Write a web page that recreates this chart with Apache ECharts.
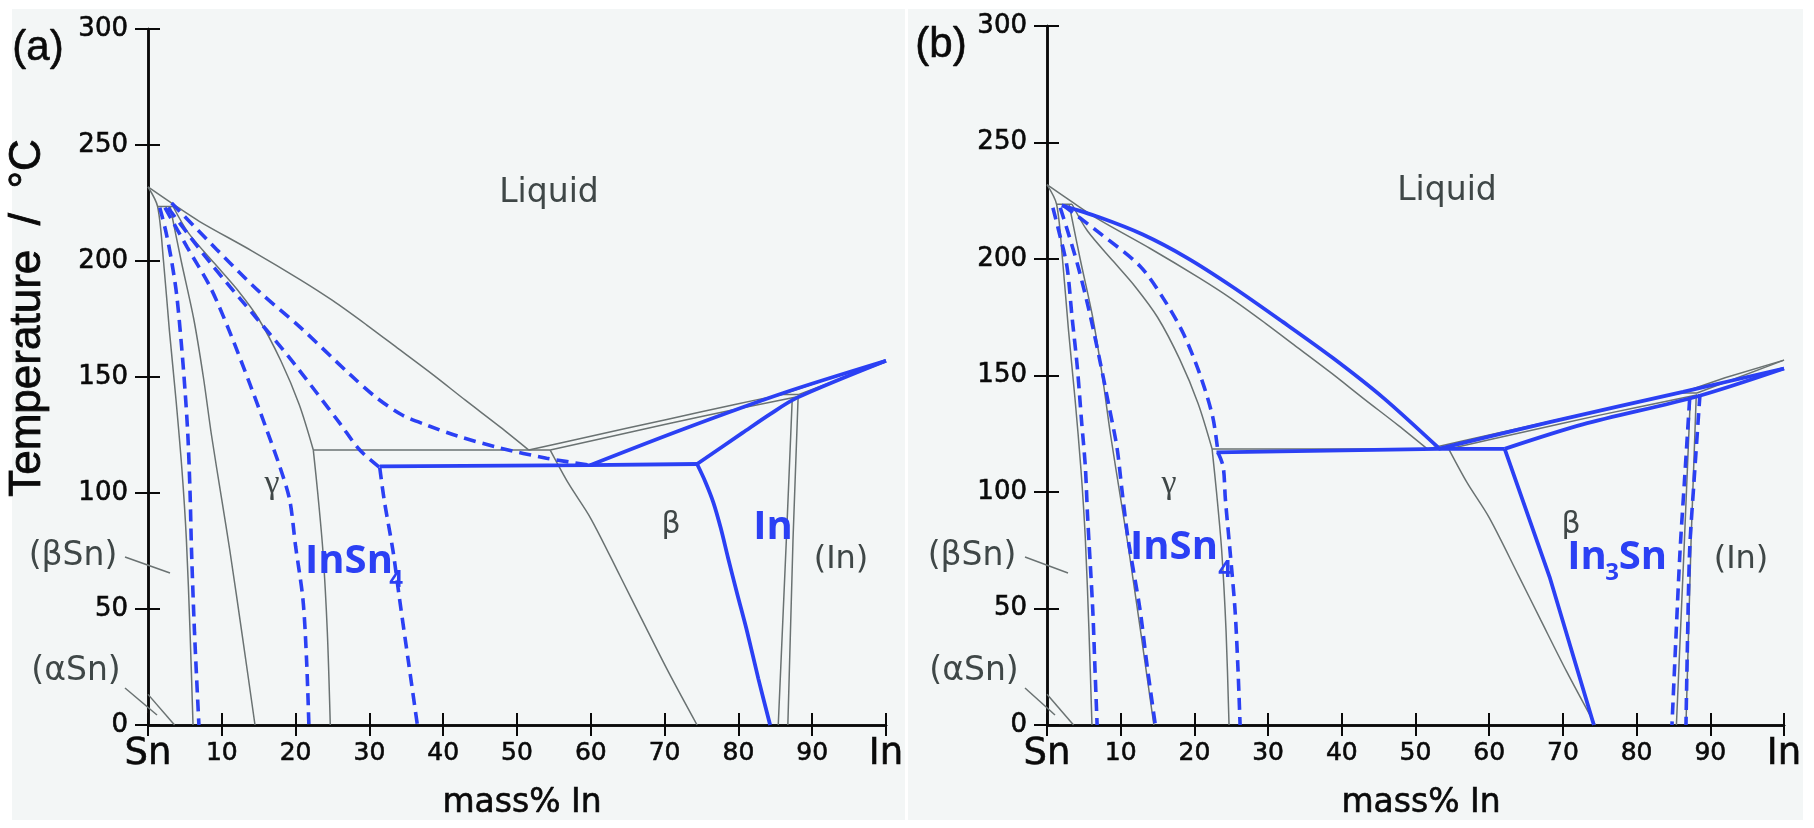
<!DOCTYPE html>
<html><head><meta charset="utf-8">
<script src="https://cdn.jsdelivr.net/npm/echarts@6/dist/echarts.min.js"></script>
<style>html,body{margin:0;padding:0;background:#fff}#c{width:1814px;height:828px}</style>
</head><body><div id="c"></div>
<script>
// ---------- tick labels ----------
const xTickLabels = ['Sn','10','20','30','40','50','60','70','80','90','In'];
const yTickValues = [0,50,100,150,200,250,300];

// ---------- grey lines: original Sn–In phase diagram (mass% In, °C) ----------
const greyLiquidusSn   = [[0,231.9],[3.4,224.5],[7,217],[14,204.5],[20.6,192],[25,183],[29.6,172.5],[34,162],[38.6,151],[43,140],[47.7,128.5],[51.6,118.5]];
const greyBetaSnBound  = [[0,231.9],[1.3,223.5],[2.1,200],[2.9,170],[3.8,140],[4.6,110],[5.2,80],[5.7,40],[6.1,0]];
const greyPeritecticSn = [[1.3,223.5],[3.4,223.5]];
const greyGammaLeft    = [[3.0,223.5],[4.5,200],[6.2,175],[7.5,150],[8.6,125],[10,97],[11.1,75],[12.8,38],[14.5,0]];
const greyGammaRight   = [[3.4,223.5],[5.5,212],[9,199],[12,188],[15,175],[18,157],[20.5,138],[22.4,118.5]];
const greyGammaLower   = [[22.4,118.5],[23.0,100],[23.7,75],[24.3,40],[24.7,0]];
const greyEutectic     = [[22.4,118.5],[54.5,118.5]];
const greyBetaLeft     = [[54.5,118.5],[57,104],[60,89],[64,64],[67,45],[70.5,23],[74.4,0]];
const greyLiquidusIn   = [[51.6,118.5],[60,124.5],[70,131.5],[80,138.5],[86,142.5]];
const greyLiquidusTop  = [[86,142.5],[92,149],[100,156.6]];
const greyBetaSolidus  = [[54.5,118.5],[65,126],[75,133],[88,141.5]];
const greyPeritecticIn = [[86,142.5],[88.2,142.5]];
const greyInSolidus    = [[88.2,142.5],[100,156.6]];
const greyBetaRight    = [[87.3,141],[86.5,80],[85.4,0]];
const greyInLeft       = [[88.1,142],[87.4,80],[86.7,0]];
const greyAlphaSn      = [[0,13.2],[3.6,0]];

// ---------- blue lines, panel (a) ----------
const aDash1 = [[1.6,223],[2.4,213],[3.2,200],[3.9,185],[4.5,165],[5.0,145],[5.4,125],[5.7,100],[5.9,75],[6.3,40],[6.9,0]];
const aDash2 = [[2.3,223],[5.3,206],[8.4,189],[11,170],[13.8,147],[16,128],[17.9,111],[19.2,97],[20,77],[21,54],[21.5,27],[21.8,0]];
const aDash3Upper = [[2.7,223],[8.5,199],[14.8,175],[19,159],[22.9,143],[26,130],[28.7,118.5],[31.4,111]];
const aDash3Lower = [[31.4,111],[32,97],[33.2,75],[34.1,54],[35.3,27],[36.5,0]];
const aDash4 = [[3.2,225],[9.3,205],[15,187],[20.6,171.5],[27.4,151],[31,141],[34.5,133.5],[38,129],[42,124.5],[47.7,119.4],[54,115],[59.9,112]];
const aSolidH    = [[31.4,111.5],[59.9,112],[74.4,112.5]];
const aSolidBeta = [[74.4,112.5],[75.5,105],[76.6,96],[77.6,85],[78.6,72],[79.8,57],[81.2,40],[82.7,20],[84.3,0]];
const aSolidL1   = [[59.9,112],[72.5,127.5],[86,143],[100,157]];
const aSolidL2   = [[74.4,112.5],[80.6,126],[84.3,134],[87.9,141],[100,157]];

// ---------- blue lines, panel (b) ----------
const bSolidLiq  = [[2.0,223],[7,218],[13,210.5],[19,200.5],[25.2,188],[32,173],[38.8,157.5],[45.6,140.5],[53.1,119]];
const bDash1 = [[0.8,222],[1.6,212],[2.7,197],[3.4,175],[4.1,154],[4.7,130],[5.2,111],[5.5,90],[6.2,50],[6.5,25],[6.8,0]];
const bDash2 = [[1.8,222],[2.8,212],[4.2,197],[5.7,178],[7.2,156],[8.4,137],[9.5,119],[10.2,100],[11,80],[12.6,50],[13.6,25],[14.7,0]];
const bDash3Upper = [[2.2,223],[7.2,211],[12.6,197],[15.8,183],[18.5,168],[20.8,150],[22.5,132],[23.2,117]];
const bDash3Lower = [[23.2,117],[23.9,111],[24.2,97],[24.8,76],[25.5,50],[25.9,25],[26.2,0]];
const bSolidH    = [[23,117],[53.1,118.5],[62.1,118.5]];
const bSolidBeta = [[62.1,118.5],[68.2,63.5],[74.2,0]];
const bSolidL1   = [[53.1,118.5],[68.2,130],[86.3,143],[100,153]];
const bSolidL2   = [[62.1,118.5],[72.7,129],[88.2,141],[100,153]];
const bDashA = [[87.2,140],[86.5,105],[85.9,75],[85.3,35],[84.8,0]];
const bDashB = [[88.6,142],[87.8,105],[87.2,75],[86.9,35],[86.7,0]];

// ---------- styling ----------
const GREY = '#6a7272', BLUE = '#2b40f4', INK = '#0a0a0a', LABEL = '#3f4747';
const greyLines = [greyLiquidusSn, greyBetaSnBound, greyPeritecticSn, greyGammaLeft, greyGammaRight, greyGammaLower,
  greyEutectic, greyBetaLeft, greyLiquidusIn, greyLiquidusTop, greyBetaSolidus, greyPeritecticIn, greyInSolidus,
  greyBetaRight, greyInLeft, greyAlphaSn];
const panels = [
  {dashed:[aDash1,aDash2,aDash3Upper,aDash3Lower,aDash4], solid:[aSolidH,aSolidBeta,aSolidL1,aSolidL2]},
  {dashed:[bDash1,bDash2,bDash3Upper,bDash3Lower,bDashA,bDashB], solid:[bSolidLiq,bSolidH,bSolidBeta,bSolidL1,bSolidL2]}
];

function lineSeries(data, g, style, z){
  return {type:'line', xAxisIndex:g*2, yAxisIndex:g*2, data:data, symbol:'none', showSymbol:false,
    smooth: data.length > 3 ? 0.3 : false,
    silent:true, animation:false, z:z, lineStyle:style};
}
const series = [];
panels.forEach((p,g)=>{
  greyLines.forEach(d=>series.push(lineSeries(d,g,{color:GREY,width:1.5},2)));
  p.dashed.forEach(d=>series.push(lineSeries(d,g,{color:BLUE,width:3.6,type:[12,7]},3)));
  p.solid.forEach(d=>series.push(lineSeries(d,g,{color:BLUE,width:3.8},3)));
});

const grids = [
  {left:148, right:928, top:29, bottom:103},
  {left:1047, right:30, top:26, bottom:103}
];
const axisLine = {show:true, lineStyle:{color:INK, width:2.5}};
const axisTick = (len)=>({show:true, length:len, lineStyle:{color:INK, width:2}});
const xAxes = [], yAxes = [];
grids.forEach((gr,g)=>{
  xAxes.push({type:'value', gridIndex:g, position:'bottom', min:0, max:100, interval:10,
    axisLine, axisTick:axisTick(11), splitLine:{show:false},
    axisLabel:{margin:11, color:INK, fontFamily:'DejaVu Sans',
      formatter:v=>{const s=xTickLabels[Math.round(v/10)]; return (s==='Sn'||s==='In')?'{el|'+s+'}':'{num|'+s+'}';},
      rich:{el:{fontSize:37, fontFamily:'DejaVu Sans', color:INK, textBorderColor:INK, textBorderWidth:0.6},
            num:{fontSize:25, fontFamily:'DejaVu Sans', color:INK, padding:[5,0,0,0], textBorderColor:INK, textBorderWidth:0.6}}}});
  xAxes.push({type:'value', gridIndex:g, position:'top', min:0, max:100, interval:10,
    axisLine, axisTick:axisTick(12), axisLabel:{show:false}, splitLine:{show:false}});
  yAxes.push({type:'value', gridIndex:g, position:'left', min:0, max:300, interval:50,
    axisLine, axisTick:axisTick(13), splitLine:{show:false},
    axisLabel:{margin:20, color:INK, fontSize:26, fontFamily:'DejaVu Sans', textBorderColor:INK, textBorderWidth:0.6,
      formatter:v=>String(v)}});
  yAxes.push({type:'value', gridIndex:g, position:'right', min:0, max:300, interval:50,
    axisLine, axisTick:axisTick(12), axisLabel:{show:false}, splitLine:{show:false}});
});

function txt(x,y,text,font,fill,extra,strokeW){
  const st = {text:text, font:font, fill:fill, align:'center', verticalAlign:'middle'};
  if (strokeW) { st.stroke = fill; st.lineWidth = strokeW; }
  return Object.assign({type:'text', x:x, y:y, z:50, silent:true, style:st}, extra||{});
}
function seg(x1,y1,x2,y2){
  return {type:'line', z:50, silent:true, shape:{x1,y1,x2,y2}, style:{stroke:GREY, lineWidth:1.5}};
}
const F_LBL = '33px "DejaVu Sans"';
const F_BLUE = 'bold 40px "Open Sans"';
const F_SUB = 'bold 24px "Open Sans"';
const graphic = [
  {type:'rect', z:-10, silent:true, shape:{x:12,y:9,width:893,height:811}, style:{fill:'#f3f6f6'}},
  {type:'rect', z:-10, silent:true, shape:{x:908,y:9,width:895,height:811}, style:{fill:'#f3f6f6'}},
  // panel letters
  txt(38,48,'(a)','42px "Liberation Sans"',INK,null,0.6),
  txt(941,45,'(b)','42px "Liberation Sans"',INK,null,0.6),
  // axis titles
  txt(28,318,'Temperature  /  °C','44px "Liberation Sans"',INK,{rotation:Math.PI/2},0.8),
  txt(522,803,'mass% In','33px "DejaVu Sans"',INK,null,0.6),
  txt(1421,803,'mass% In','33px "DejaVu Sans"',INK,null,0.6),
  // panel (a) phase labels
  txt(549,193,'Liquid',F_LBL,LABEL),
  txt(272,484,'γ','34px "Liberation Serif"',LABEL),
  txt(671,525,'β','30px "DejaVu Sans"',LABEL),
  txt(841,560,'(In)','32px "DejaVu Sans"',LABEL),
  txt(73,556,'(βSn)',F_LBL,LABEL),
  txt(76,671,'(αSn)',F_LBL,LABEL),
  seg(125,557,170,573), seg(125,688,157,715),
  txt(349,562,'InSn',F_BLUE,BLUE), txt(396,580,'4',F_SUB,BLUE),
  txt(773,528,'In',F_BLUE,BLUE),
  // panel (b) phase labels
  txt(1447,191,'Liquid',F_LBL,LABEL),
  txt(1169,484,'γ','34px "Liberation Serif"',LABEL),
  txt(1571,525,'β','30px "DejaVu Sans"',LABEL),
  txt(1741,560,'(In)','32px "DejaVu Sans"',LABEL),
  txt(972,556,'(βSn)',F_LBL,LABEL),
  txt(974,671,'(αSn)',F_LBL,LABEL),
  seg(1025,557,1068,573), seg(1025,688,1055,715),
  txt(1174,548,'InSn',F_BLUE,BLUE), txt(1225,570,'4',F_SUB,BLUE),
  txt(1587,558,'In',F_BLUE,BLUE), txt(1612,573,'3',F_SUB,BLUE), txt(1643,558,'Sn',F_BLUE,BLUE)
];

const chart = echarts.init(document.getElementById('c'), null, {renderer:'canvas'});
chart.setOption({
  backgroundColor:'#ffffff',
  animation:false,
  grid:grids, xAxis:xAxes, yAxis:yAxes, series:series, graphic:graphic
});
</script></body></html>
